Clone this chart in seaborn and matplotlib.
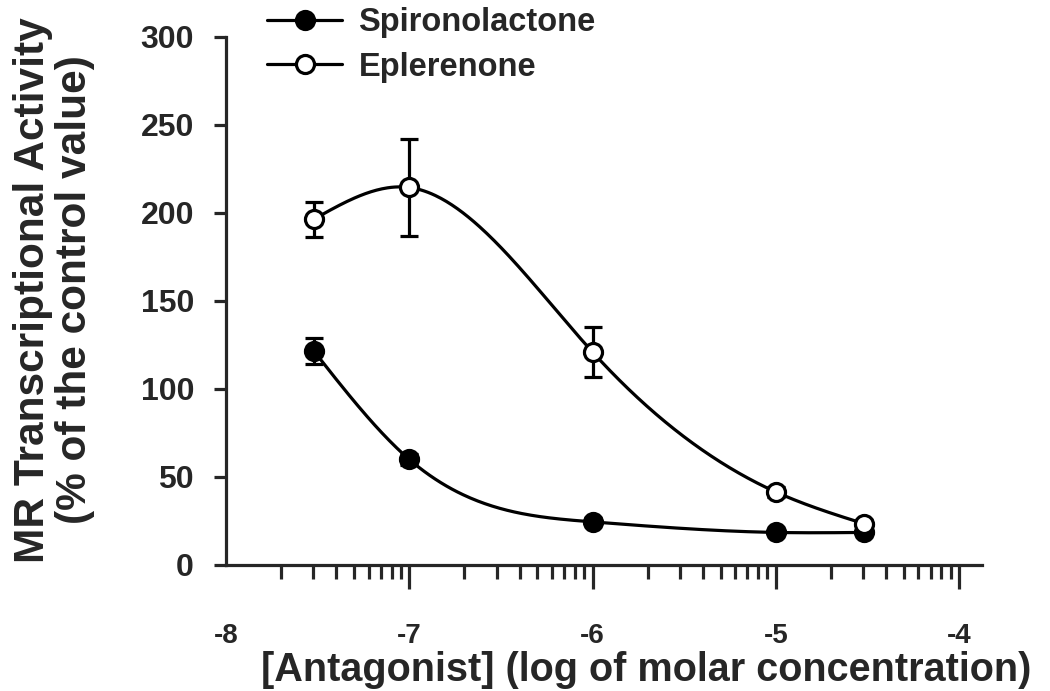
import numpy as np
import pandas as pd
import seaborn as sns
import matplotlib.pyplot as plt
from matplotlib.lines import Line2D

# log10 molar concentration of antagonist
log_conc = [-7.52, -7.0, -6.0, -5.0, -4.52]

spiro_mean = [121.5, 60.0, 24.5, 18.5, 18.5]
spiro_err = [7.5, 3.0, 2.0, 1.5, 1.5]

eple_mean = [196.5, 214.5, 121.0, 41.5, 23.5]
eple_err = [10.0, 27.5, 14.0, 3.0, 2.0]

series_names = ["Spironolactone", "Eplerenone"]


def natural_spline(x, y, n=300):
    # smooth drawing line through the points (natural cubic spline)
    x = np.asarray(x, float)
    y = np.asarray(y, float)
    k = len(x)
    h = np.diff(x)
    A = np.zeros((k, k))
    b = np.zeros(k)
    A[0, 0] = A[-1, -1] = 1
    for i in range(1, k - 1):
        A[i, i - 1] = h[i - 1]
        A[i, i] = 2 * (h[i - 1] + h[i])
        A[i, i + 1] = h[i]
        b[i] = 6 * ((y[i + 1] - y[i]) / h[i] - (y[i] - y[i - 1]) / h[i - 1])
    M = np.linalg.solve(A, b)
    xs = np.linspace(x[0], x[-1], n)
    idx = np.clip(np.searchsorted(x, xs) - 1, 0, k - 2)
    x0, x1 = x[idx], x[idx + 1]
    hh = x1 - x0
    t0, t1 = x1 - xs, xs - x0
    ys = (M[idx] * t0 ** 3 + M[idx + 1] * t1 ** 3) / (6 * hh) \
        + (y[idx] / hh - M[idx] * hh / 6) * t0 \
        + (y[idx + 1] / hh - M[idx + 1] * hh / 6) * t1
    return xs, ys


sns.set_style("ticks")
plt.rcParams["font.family"] = ["Liberation Sans", "DejaVu Sans"]
plt.rcParams["font.weight"] = "bold"

fig = plt.figure(figsize=(10.5, 6.91), dpi=100)
ax = fig.add_axes([226 / 1050, 1 - 565 / 691, (982 - 226) / 1050, (565 - 37) / 691])

lw = 2.3
ms = 13
curves = []
for name, m in zip(series_names, [spiro_mean, eple_mean]):
    xs, ys = natural_spline(log_conc, m)
    curves.append(pd.DataFrame({"x": xs, "y": ys, "series": name}))
curves = pd.concat(curves)
sns.lineplot(data=curves, x="x", y="y", hue="series", sort=False,
             palette=["black", "black"], linewidth=lw, legend=False, ax=ax, zorder=2)

for m, e, face in [(spiro_mean, spiro_err, "black"), (eple_mean, eple_err, "white")]:
    ax.errorbar(log_conc, m, yerr=e, fmt="none", ecolor="black",
                elinewidth=lw, capsize=6.5, capthick=lw, zorder=3)
    ax.plot(log_conc, m, linestyle="none", marker="o", markersize=ms,
            markerfacecolor=face, markeredgecolor="black", markeredgewidth=lw, zorder=4)

ax.set_xlim(-8, -3.875)
ax.set_ylim(0, 300)
ax.set_xticks([-8, -7, -6, -5, -4])
ax.set_xticklabels(["-8", "-7", "-6", "-5", "-4"])
minor = [d + np.log10(k) for d in range(-8, -4) for k in range(2, 10)]
ax.set_xticks(minor, minor=True)
ax.set_yticks(range(0, 301, 50))
ax.xaxis.get_major_ticks()[0].tick1line.set_visible(False)

sns.despine(ax=ax)
for s in ["left", "bottom"]:
    ax.spines[s].set_linewidth(lw)
ax.tick_params(axis="x", which="major", length=17, width=lw, pad=25, labelsize=20)
ax.tick_params(axis="x", which="minor", length=10, width=lw)
ax.tick_params(axis="y", which="major", length=9, width=lw, pad=14, labelsize=23)
for lab in ax.get_xticklabels() + ax.get_yticklabels():
    lab.set_fontweight("bold")

ax.set_xlabel("[Antagonist] (log of molar concentration)", fontsize=28.5,
              fontweight="bold", va="center", ha="center")
ax.xaxis.set_label_coords((646 - 226) / 756, -(670 - 565) / 528)
ax.set_ylabel("MR Transcriptional Activity\n(% of the control value)", fontsize=30.5,
              fontweight="bold", linespacing=1.05, va="center", ha="center")
ax.yaxis.set_label_coords((54 - 226) / 756, (565 - 290) / 528)

handles = [
    Line2D([], [], color="black", linewidth=lw, marker="o", markersize=ms,
           markerfacecolor="black", markeredgecolor="black", markeredgewidth=lw),
    Line2D([], [], color="black", linewidth=lw, marker="o", markersize=ms,
           markerfacecolor="white", markeredgecolor="black", markeredgewidth=lw),
]
leg = fig.legend(handles, series_names, loc="upper left",
                 bbox_to_anchor=(267 / 1050, 1 - 7 / 691), frameon=False,
                 fontsize=23.5, handlelength=2.3, handletextpad=0.5,
                 labelspacing=0.42, borderpad=0, borderaxespad=0)
for t in leg.get_texts():
    t.set_fontweight("bold")

fig.savefig("out.png", dpi=100, facecolor="white")
